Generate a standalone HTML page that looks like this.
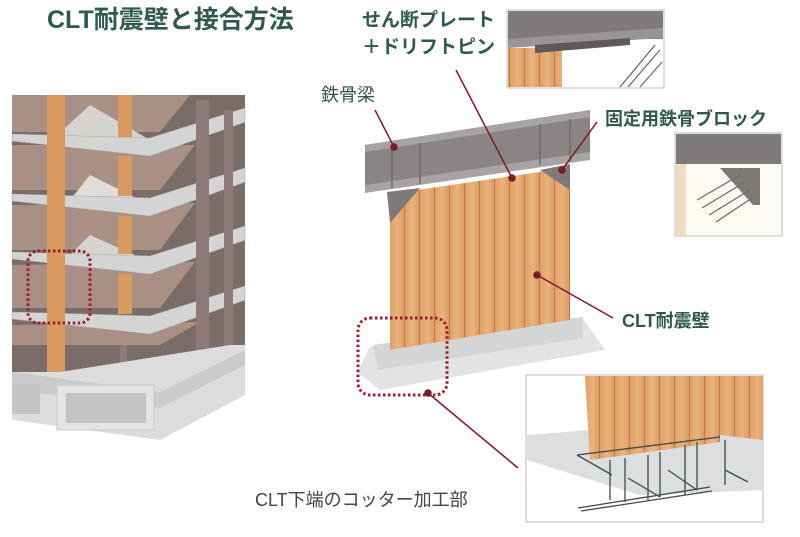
<!DOCTYPE html>
<html><head><meta charset="utf-8"><style>
html,body{margin:0;padding:0;background:#fff;}
svg{display:block;}
.t{font-family:"Liberation Sans","Noto Sans CJK JP",sans-serif;}
</style></head><body>
<svg width="800" height="537" viewBox="0 0 800 537" xmlns="http://www.w3.org/2000/svg">
<defs>
<linearGradient id="wood" x1="0" x2="1" y1="0" y2="0">
<stop offset="0" stop-color="#e0a065"/><stop offset="0.5" stop-color="#e9b47c"/><stop offset="1" stop-color="#db9860"/>
</linearGradient>
<pattern id="planks" width="15" height="400" patternUnits="userSpaceOnUse">
<rect width="15" height="400" fill="url(#wood)"/>
<line x1="14.5" y1="0" x2="14.5" y2="400" stroke="#b87444" stroke-width="0.8"/>
</pattern>
</defs>
<rect width="800" height="537" fill="#fff"/>

<text class="t" x="47" y="28" font-size="25" font-weight="bold" fill="#2f5a4a">CLT耐震壁と接合方法</text>

<!-- Building left -->
<g>
<rect x="12" y="95" width="233" height="280" fill="#7a6c67"/>
<g fill="#a89184">
<polygon points="12,95 190,95 160,132 12,132"/>
<polygon points="12,145 195,145 160,190 12,190"/>
<polygon points="12,205 195,203 160,250 12,250"/>
<polygon points="12,265 195,262 160,308 12,308"/>
<polygon points="12,325 200,322 160,345 12,345"/>
</g>
<polygon points="55,137 90,105 150,140" fill="#d6d3cf"/>
<polygon points="70,200 90,175 150,205" fill="#e0ddd8"/>
<polygon points="70,255 90,235 150,262" fill="#d6d3cf"/>
<g fill="#d4d4d4" stroke="#b0b0b0" stroke-width="0.6">
<polygon points="12,134 150,138 245,108 245,122 150,156 12,141"/>
<polygon points="12,194 150,198 245,168 245,182 150,216 12,201"/>
<polygon points="12,252 150,256 245,226 245,240 150,274 12,259"/>
<polygon points="12,312 150,316 245,286 245,300 150,334 12,319"/>
</g>
<g fill="#8e7a78">
<rect x="196" y="100" width="13" height="260"/>
<rect x="224" y="110" width="9" height="240"/>
<rect x="120" y="345" width="7" height="30"/>
</g>
<g fill="#d99a62">
<rect x="47" y="95" width="18" height="280"/>
<rect x="118" y="95" width="14" height="42"/>
<rect x="118" y="156" width="14" height="40"/>
<rect x="118" y="216" width="14" height="38"/>
<rect x="118" y="274" width="14" height="40"/>
</g>
<polygon points="12,372 60,372 230,345 245,345 245,395 160,440 12,420" fill="#dcdcdc"/>
<polygon points="12,372 160,392 245,350 245,365 160,408 12,390" fill="#cacaca"/>
<rect x="57" y="385" width="97" height="45" fill="#e4e4e4" stroke="#c8c8c8"/>
<rect x="66" y="393" width="80" height="30" fill="#c2c4c4"/>
<rect x="12" y="384" width="28" height="30" fill="#c2c4c4"/>
<rect x="28" y="251" width="62" height="72" rx="10" fill="none" stroke="#9a1d2a" stroke-width="3" stroke-dasharray="2.5,2.5"/>
</g>

<!-- Center wall -->
<polygon points="370,347 582,317 605,350 380,390 357,372" fill="#e2e4e4"/>
<polygon points="373,345 583,317 583,338 378,370" fill="#d4d6d6"/>
<polygon points="390,223 417,190 553,170 570,190 570,320 390,350" fill="url(#planks)"/>
<polygon points="365,145 590,110 590,158 365,192" fill="#8a8585"/>
<polygon points="365,145 590,110 590,117 365,152" fill="#a7a3a2"/>
<polygon points="365,185 590,152 590,160 365,193" fill="#a7a3a2"/>
<g stroke="#6f6a6a" stroke-width="1.5">
<line x1="392" y1="147" x2="392" y2="188"/><line x1="420" y1="143" x2="420" y2="184"/>
<line x1="540" y1="124" x2="540" y2="165"/><line x1="570" y1="119" x2="570" y2="161"/>
</g>
<polygon points="387,192 420,188 390,223" fill="#7f7a7a"/>
<polygon points="540,170 570,164 570,190" fill="#7f7a7a"/>
<rect x="358" y="318" width="89" height="77" rx="12" fill="none" stroke="#9a1d2a" stroke-width="3" stroke-dasharray="2.5,2.5"/>

<!-- Inset top -->
<rect x="507" y="10" width="157" height="78" fill="#fff" stroke="#b8c0bc"/>
<rect x="508" y="11" width="155" height="28" fill="#807b7b"/>
<polygon points="508,39 663,28 663,38 508,48" fill="#9a9595"/>
<rect x="508" y="48" width="54" height="39" fill="url(#planks)"/>
<polygon points="535,45 630,38 630,45 535,53" fill="#5e5a5a"/>
<g stroke="#6d6a6a" stroke-width="1.3"><line x1="620" y1="87" x2="655" y2="45"/><line x1="628" y1="87" x2="660" y2="50"/><line x1="640" y1="87" x2="662" y2="62"/></g>

<!-- Inset right -->
<rect x="675" y="133" width="107" height="103" fill="#fdfaf2" stroke="#b8c0bc"/>
<rect x="676" y="134" width="105" height="30" fill="#807b7b"/>
<rect x="676" y="164" width="10" height="71" fill="#f2dcc0"/>
<polygon points="720,168 760,168 760,205 753,205" fill="#7f7a7a"/>
<g stroke="#6d6a6a" stroke-width="1.3"><line x1="697" y1="200" x2="740" y2="175"/><line x1="702" y1="208" x2="745" y2="182"/><line x1="709" y1="215" x2="750" y2="190"/><line x1="716" y1="222" x2="752" y2="198"/></g>

<!-- Inset bottom -->
<rect x="526" y="375" width="237" height="147" fill="#fff" stroke="#b8c0bc"/>
<polygon points="527,435 590,430 763,430 763,490 640,495 527,460" fill="#dcdedf"/>
<polygon points="585,376 763,376 763,440 720,435 720,442 590,460" fill="url(#planks)"/>
<g stroke="#3f4a48" stroke-width="1.3" fill="none">
<polyline points="577,455 720,437"/><polyline points="577,455 612,475"/>
<polyline points="578,508 710,487"/><polyline points="581,511 712,491"/>
<polyline points="610,460 610,500"/><polyline points="625,458 625,502"/>
<polyline points="648,455 648,500"/><polyline points="660,452 660,497"/>
<polyline points="685,445 685,495"/><polyline points="697,442 697,490"/>
<polyline points="725,440 725,485"/><polyline points="725,470 748,482"/>
<polyline points="628,478 660,497"/><polyline points="668,470 697,490"/>
</g>

<g stroke="#7a1a2a" stroke-width="1.5" fill="#7a1a2a">
<line x1="375" y1="110" x2="394" y2="147"/><circle cx="394" cy="147" r="3"/>
<line x1="456" y1="70" x2="512" y2="178"/><circle cx="512" cy="178" r="3"/>
<line x1="597" y1="122" x2="562" y2="170"/><circle cx="562" cy="170" r="3"/>
<line x1="537" y1="275" x2="613" y2="318"/><circle cx="537" cy="275" r="3"/>
<line x1="428" y1="393" x2="518" y2="468"/><circle cx="428" cy="393" r="3"/>
</g>

<g class="t" fill="#2f5a4a" font-weight="bold">
<text x="362" y="26" font-size="19">せん断プレート</text>
<text x="362" y="53" font-size="19">＋ドリフトピン</text>
<text x="605" y="125" font-size="18">固定用鉄骨ブロック</text>
<text x="622" y="327" font-size="18">CLT耐震壁</text>
</g>
<text class="t" x="321" y="101" font-size="18" fill="#2f5048">鉄骨梁</text>
<text class="t" x="255" y="506" font-size="18" fill="#444">CLT下端のコッター加工部</text>
</svg>
</body></html>
